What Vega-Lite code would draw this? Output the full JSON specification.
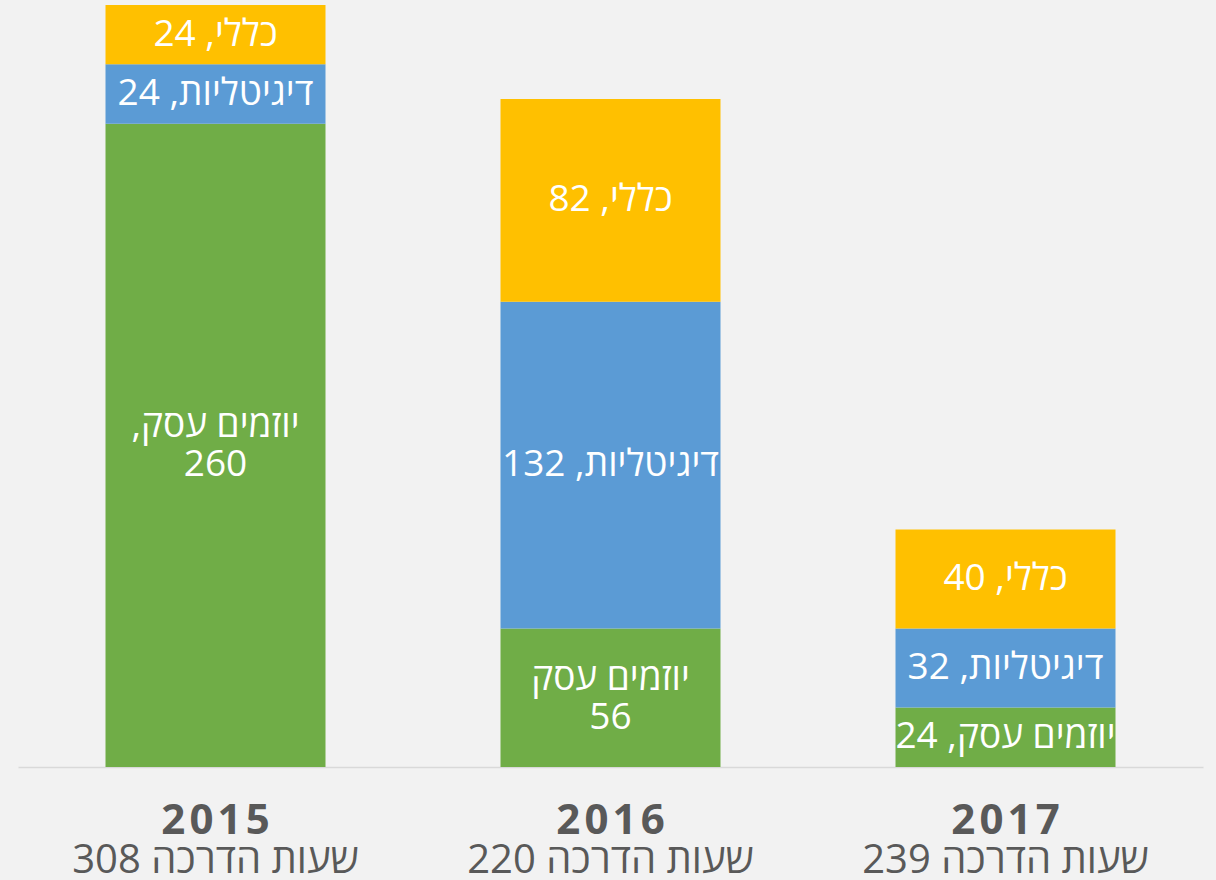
{
  "$schema": "https://vega.github.io/schema/vega-lite/v6.json",
  "width": 1185,
  "height": 767,
  "autosize": {"type": "none"},
  "padding": {"left": 18, "top": 0, "right": 13, "bottom": 113},
  "background": "#f2f2f2",
  "config": {"view": {"stroke": null}, "font": "Open Sans"},
  "data": {
    "values": [
      {"period": "2015|308 שעות הדרכה", "series": "יוזמים עסק", "order": 1, "value": 260, "lines": 2, "label": "\u202bיוזמים עסק,\u202c\n260"},
      {"period": "2015|308 שעות הדרכה", "series": "דיגיטליות", "order": 2, "value": 24, "lines": 1, "label": "\u202bדיגיטליות, 24\u202c"},
      {"period": "2015|308 שעות הדרכה", "series": "כללי", "order": 3, "value": 24, "lines": 1, "label": "\u202bכללי, 24\u202c"},
      {"period": "2016|220 שעות הדרכה", "series": "יוזמים עסק", "order": 1, "value": 56, "lines": 2, "label": "\u202bיוזמים עסק\u202c\n56"},
      {"period": "2016|220 שעות הדרכה", "series": "דיגיטליות", "order": 2, "value": 132, "lines": 1, "label": "\u202bדיגיטליות, 132\u202c"},
      {"period": "2016|220 שעות הדרכה", "series": "כללי", "order": 3, "value": 82, "lines": 1, "label": "\u202bכללי, 82\u202c"},
      {"period": "2017|239 שעות הדרכה", "series": "יוזמים עסק", "order": 1, "value": 24, "lines": 1, "label": "\u202bיוזמים עסק, 24\u202c"},
      {"period": "2017|239 שעות הדרכה", "series": "דיגיטליות", "order": 2, "value": 32, "lines": 1, "label": "\u202bדיגיטליות, 32\u202c"},
      {"period": "2017|239 שעות הדרכה", "series": "כללי", "order": 3, "value": 40, "lines": 1, "label": "\u202bכללי, 40\u202c"}
    ]
  },
  "layer": [
    {
      "mark": {"type": "bar", "width": 220},
      "encoding": {
        "x": {
          "field": "period", "type": "nominal", "sort": null,
          "scale": {"paddingInner": 0.443, "paddingOuter": 0.2215},
          "axis": {
            "orient": "bottom", "title": null, "labelAngle": 0, "ticks": false, "tickSize": 0,
            "domainColor": "#d9d9d9", "domainWidth": 1.5, "grid": false,
            "labelExpr": "join(split(split(datum.value, '|')[0], ''), '\u200a')",
            "labelFontSize": 42, "labelFontWeight": "bold", "labelColor": "#595959",
            "labelPadding": 33, "labelLimit": 0, "labelOverlap": false
          }
        },
        "y": {"field": "value", "type": "quantitative", "stack": "zero", "scale": {"domain": [0, 310], "nice": false}, "axis": null},
        "color": {
          "field": "series", "type": "nominal",
          "scale": {"domain": ["יוזמים עסק", "דיגיטליות", "כללי"], "range": ["#70ad47", "#5b9bd5", "#ffc000"]},
          "legend": null
        },
        "order": {"field": "order"}
      }
    },
    {
      "transform": [
        {"stack": "value", "groupby": ["period"], "sort": [{"field": "order"}], "as": ["v0", "v1"]},
        {"calculate": "(datum.v0 + datum.v1) / 2", "as": "mid"},
        {"filter": "datum.lines == 1"}
      ],
      "mark": {"type": "text", "color": "white", "fontSize": 37, "baseline": "middle", "align": "center"},
      "encoding": {
        "x": {
          "field": "period", "type": "nominal", "sort": null,
          "axis": {
            "orient": "bottom", "title": null, "labelAngle": 0, "ticks": false, "tickSize": 0,
            "domain": false, "grid": false,
            "labelExpr": "split(datum.value, '|')[1]",
            "labelFontSize": 40, "labelColor": "#595959",
            "labelPadding": 73, "labelLimit": 0, "labelOverlap": false
          }
        },
        "y": {"field": "mid", "type": "quantitative", "axis": null},
        "text": {"field": "label"}
      }
    },
    {
      "transform": [
        {"stack": "value", "groupby": ["period"], "sort": [{"field": "order"}], "as": ["v0", "v1"]},
        {"calculate": "(datum.v0 + datum.v1) / 2", "as": "mid"},
        {"filter": "datum.lines == 2"}
      ],
      "mark": {"type": "text", "color": "white", "fontSize": 37, "lineBreak": "\n", "lineHeight": 39, "baseline": "middle", "align": "center", "dy": -19},
      "encoding": {
        "x": {"field": "period", "type": "nominal", "sort": null, "axis": null},
        "y": {"field": "mid", "type": "quantitative", "axis": null},
        "text": {"field": "label"}
      }
    }
  ],
  "resolve": {"axis": {"x": "independent"}}
}
